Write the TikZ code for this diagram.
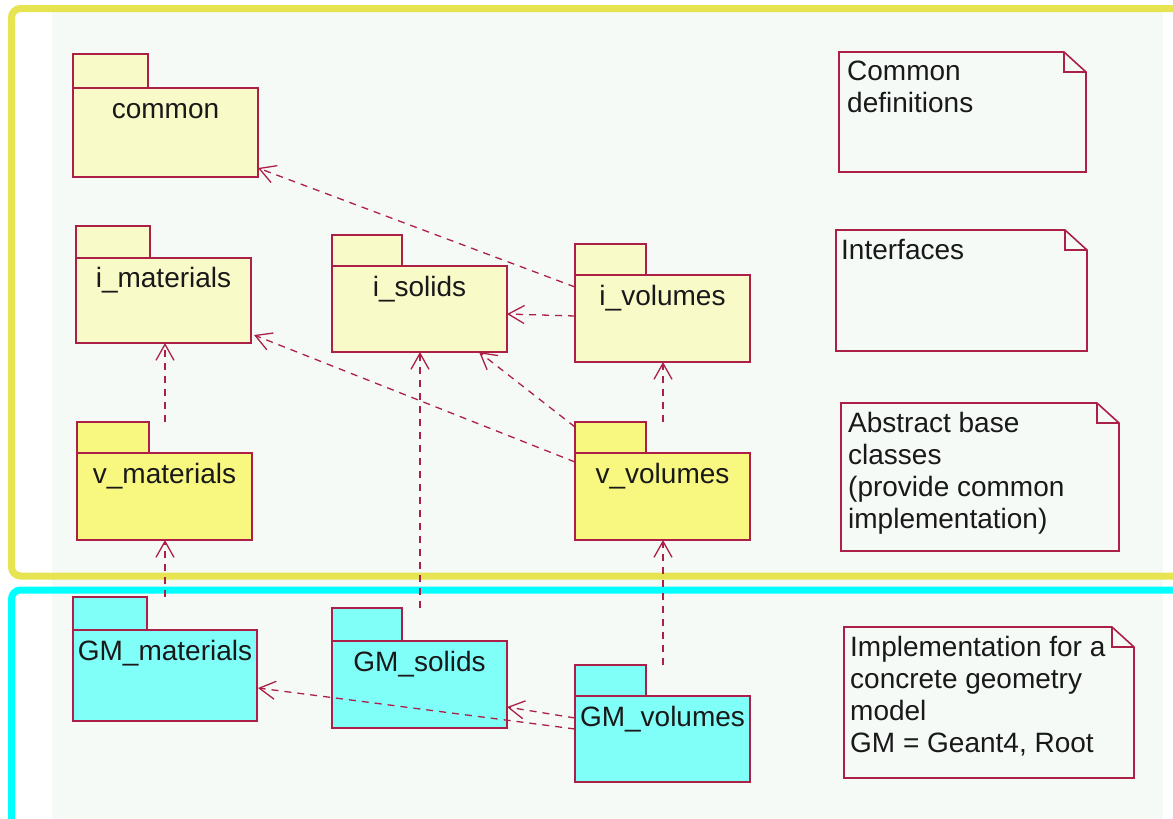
\documentclass[tikz,border=0pt]{standalone}
\usepackage{fontspec}
\setmainfont{Liberation Sans}
\usetikzlibrary{arrows.meta,calc}

\definecolor{pkgline}{RGB}{172,32,72}
\definecolor{panel}{RGB}{245,250,247}
\definecolor{ifill}{RGB}{248,250,200}
\definecolor{vfill}{RGB}{248,248,128}
\definecolor{gmfill}{RGB}{128,255,248}
\definecolor{yframe}{RGB}{230,228,80}
\definecolor{cframe}{RGB}{0,255,255}
\definecolor{ink}{RGB}{25,25,25}

\begin{document}
\begin{tikzpicture}[x=1pt,y=-1pt,
  pkgbody/.style={draw=pkgline, line width=1.6pt, minimum width=175pt,
    minimum height=87pt, anchor=north west, inner sep=0pt, outer sep=0pt},
  pkgtab/.style={draw=pkgline, line width=1.6pt, minimum width=71pt,
    minimum height=31pt, anchor=south west, inner sep=0pt, outer sep=0pt},
  pkgname/.style={font=\fontsize{28}{32}\selectfont, text=ink, anchor=base, inner sep=0pt},
  notebox/.style={anchor=north west, inner sep=0pt, outer sep=0pt},
  notetext/.style={font=\fontsize{28}{32}\selectfont, text=ink, align=left,
    anchor=north west, inner sep=0pt},
  noteline/.style={draw=pkgline, line width=1.6pt, line join=miter},
  frameline/.style={line width=7pt, rounded corners=9pt},
  dep/.style={draw=pkgline, line width=1.3pt, dash pattern=on 7pt off 6pt,
    -{Straight Barb[length=16pt,width=18pt,line width=1.3pt]}},
]
\useasboundingbox (0,0) rectangle (1173,819);
\fill[white] (0,0) rectangle (1173,819);
\fill[panel] (52,12) rectangle (1163,819);

% layer frames
\draw[frameline, yframe] (11.5,8.5) rectangle (1200,576);
\draw[frameline, cframe] (11.5,590) rectangle (1200,860);

% interface packages
\node[pkgbody, fill=ifill, minimum width=185pt, minimum height=89pt] (common) at (73,88) {};
\node[pkgtab, fill=ifill, minimum width=75pt, minimum height=34pt] (common-tab) at (common.north west) {};
\node[pkgname] (common-name) at ($(common.north)+(0,30)$) {common};

\node[pkgbody, fill=ifill, minimum height=85pt] (imat) at (76,258) {};
\node[pkgtab, fill=ifill, minimum width=74pt, minimum height=32pt] (imat-tab) at (imat.north west) {};
\node[pkgname] (imat-name) at ($(imat.north)+(0,29)$) {i\_materials};

\node[pkgbody, fill=ifill, minimum height=86pt] (isol) at (332,266) {};
\node[pkgtab, fill=ifill, minimum width=70pt] (isol-tab) at (isol.north west) {};
\node[pkgname] (isol-name) at ($(isol.north)+(0,30)$) {i\_solids};

\node[pkgbody, fill=ifill] (ivol) at (575,275) {};
\node[pkgtab, fill=ifill] (ivol-tab) at (ivol.north west) {};
\node[pkgname] (ivol-name) at ($(ivol.north)+(0,30)$) {i\_volumes};

% abstract base packages
\node[pkgbody, fill=vfill] (vmat) at (77,453) {};
\node[pkgtab, fill=vfill, minimum width=72pt] (vmat-tab) at (vmat.north west) {};
\node[pkgname] (vmat-name) at ($(vmat.north)+(0,30)$) {v\_materials};

\node[pkgbody, fill=vfill] (vvol) at (575,453) {};
\node[pkgtab, fill=vfill] (vvol-tab) at (vvol.north west) {};
\node[pkgname] (vvol-name) at ($(vvol.north)+(0,30)$) {v\_volumes};

% concrete geometry model packages
\node[pkgbody, fill=gmfill, minimum width=184pt, minimum height=91pt] (gmat) at (73,630) {};
\node[pkgtab, fill=gmfill, minimum width=74pt, minimum height=33pt] (gmat-tab) at (gmat.north west) {};
\node[pkgname] (gmat-name) at ($(gmat.north)+(0,30)$) {GM\_materials};

\node[pkgbody, fill=gmfill] (gsol) at (332,641) {};
\node[pkgtab, fill=gmfill, minimum width=70pt, minimum height=33pt] (gsol-tab) at (gsol.north west) {};
\node[pkgname] (gsol-name) at ($(gsol.north)+(0,30)$) {GM\_solids};

\node[pkgbody, fill=gmfill, minimum height=86pt] (gvol) at (575,696) {};
\node[pkgtab, fill=gmfill] (gvol-tab) at (gvol.north west) {};
\node[pkgname] (gvol-name) at ($(gvol.north)+(0,30)$) {GM\_volumes};

% notes with a folded corner
\node[notebox, minimum width=247pt, minimum height=120pt] (n1) at (839,52) {};
\node[notebox, minimum width=251pt, minimum height=121pt] (n2) at (836,230) {};
\node[notebox, minimum width=278pt, minimum height=148pt] (n3) at (841,403) {};
\node[notebox, minimum width=290pt, minimum height=151pt] (n4) at (844,627) {};
\foreach \n in {n1,n2,n3,n4}{
  \draw[noteline] (\n.north west) -- ($(\n.north east)+(-22,0)$) -- ($(\n.north east)+(0,20)$)
    -- (\n.south east) -- (\n.south west) -- cycle;
  \draw[noteline] ($(\n.north east)+(-22,0)$) |- ($(\n.north east)+(0,20)$);
}
\node[notetext] (n1-text) at ($(n1.north west)+(8,9)$) {Common\\definitions};
\node[notetext] (n2-text) at ($(n2.north west)+(5,9)$) {Interfaces};
\node[notetext] (n3-text) at ($(n3.north west)+(7,9)$) {Abstract base\\classes\\(provide common\\implementation)};
\node[notetext] (n4-text) at ($(n4.north west)+(6,9)$) {Implementation for a\\concrete geometry\\model\\GM = Geant4, Root};

% dependencies
\draw[dep] ($(ivol.north west)+(0,12)$) -- ($(common.south east)+(0,-9)$);
\draw[dep] ($(ivol.north west)+(0,41)$) -- ($(isol.north east)+(0,48)$);
\draw[dep] ($(vvol.north west)+(0,9)$) -- ($(imat.south east)+(3,-8)$);
\draw[dep] ($(vvol-tab.north west)+(0,5)$) -- ($(isol.south west)+(147,0)$);
\draw[dep] ($(vvol.north west)+(88,-31)$) -- ($(ivol.south west)+(88,0)$);
\draw[dep] ($(vmat.north west)+(88,-31)$) -- ($(imat.south west)+(89,0)$);
\draw[dep] ($(gsol.north west)+(88,-33)$) -- ($(isol.south west)+(88,0)$);
\draw[dep] ($(gvol.north west)+(88,-31)$) -- ($(vvol.south west)+(88,0)$);
\draw[dep] ($(gmat.north west)+(92,-33)$) -- ($(vmat.south west)+(88,0)$);
\draw[dep] ($(gvol.north west)+(0,22)$) -- ($(gsol.north east)+(0,66)$);
\draw[dep] ($(gvol.north west)+(0,33)$) -- ($(gmat.north east)+(1,58)$);
\end{tikzpicture}
\end{document}
